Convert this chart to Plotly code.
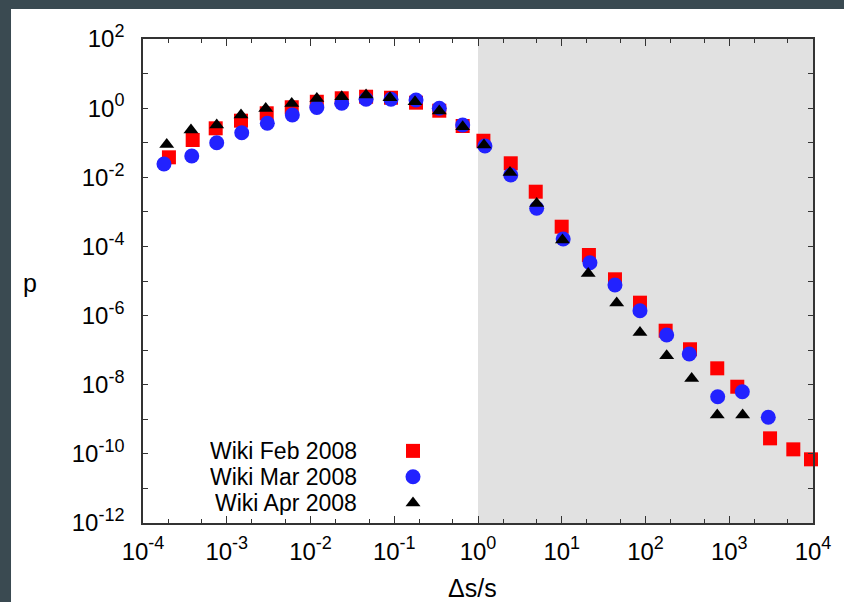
import plotly.graph_objects as go

# ---- data ----
series_names = ["Wiki Feb 2008", "Wiki Mar 2008", "Wiki Apr 2008"]

feb_x = [2.04e-4, 3.92e-4, 7.38e-4, 1.48e-3, 3.0e-3, 5.97e-3, 0.0119, 0.0236, 0.0461, 0.0914,
         0.182, 0.345, 0.656, 1.16, 2.46, 4.89, 9.98, 21.1, 43.2, 85.9, 174, 340, 719, 1247,
         3070, 5820, 9460]
feb_p = [0.0378, 0.120, 0.261, 0.434, 0.710, 1.06, 1.53, 1.93, 2.14, 2.00, 1.44, 0.843, 0.304,
         0.114, 0.0254, 3.83e-3, 3.72e-4, 5.65e-5, 1.12e-5, 2.36e-6, 3.65e-7, 1.06e-7, 2.98e-8,
         8.75e-9, 2.81e-10, 1.35e-10, 6.95e-11]

mar_x = [1.78e-4, 3.82e-4, 7.59e-4, 1.51e-3, 3.05e-3, 6.07e-3, 0.0119, 0.0236, 0.0461, 0.0914,
         0.182, 0.345, 0.656, 1.21, 2.46, 5.02, 10.4, 21.7, 43.2, 85.9, 179, 333, 728, 1432, 2924]
mar_p = [0.0242, 0.0413, 0.100, 0.195, 0.364, 0.634, 1.04, 1.38, 1.80, 1.80, 1.72, 0.989, 0.325,
         0.0804, 0.0116, 1.27e-3, 1.64e-4, 3.38e-5, 7.66e-6, 1.38e-6, 2.74e-7, 7.73e-8, 4.50e-9,
         6.28e-9, 1.14e-9]

apr_x = [1.92e-4, 3.74e-4, 7.59e-4, 1.48e-3, 2.92e-3, 5.97e-3, 0.0119, 0.0236, 0.0461, 0.0889,
         0.177, 0.345, 0.656, 1.18, 2.41, 5.02, 10.2, 20.7, 45.3, 85.9, 179, 356, 719, 1445]
apr_p = [0.0891, 0.233, 0.324, 0.632, 0.982, 1.37, 1.91, 2.14, 2.39, 2.00, 1.53, 0.824, 0.290,
         0.0857, 0.0138, 1.75e-3, 1.53e-4, 1.66e-5, 2.32e-6, 3.25e-7, 6.89e-8, 1.52e-8, 1.33e-9,
         1.33e-9]

x_exponents = [-4, -3, -2, -1, 0, 1, 2, 3, 4]
y_exponents = [2, 0, -2, -4, -6, -8, -10, -12]
y_minor_exponents = [1, -1, -3, -5, -7, -9, -11]
shade_range = [1, 1e4]

FONT = "Liberation Sans, Arial, Helvetica, sans-serif"
colors = ["#ff0000", "#2222ff", "#000000"]
symbols = ["square", "circle", "triangle-up"]
sizes = [14, 15, 13]


def pow_label(e):
    return f"10<sup><span style='font-size:18px'>{e}</span></sup>"


fig = go.Figure()
for name, xs, ps, c, s, sz in zip(series_names, [feb_x, mar_x, apr_x], [feb_p, mar_p, apr_p],
                                  colors, symbols, sizes):
    fig.add_trace(go.Scatter(x=xs, y=ps, mode="markers", name=name, cliponaxis=False,
                             marker=dict(symbol=s, size=sz, color=c, line=dict(width=0)),
                             showlegend=False))

# legend (gnuplot style: text right-aligned, symbol to the right) on a hidden overlay axis
legend_rows = [0.149, 0.0955, 0.0415]
for name, c, s, sz, yy in zip(series_names, colors, symbols, sizes, legend_rows):
    fig.add_trace(go.Scatter(x=[0.403], y=[yy], mode="markers", xaxis="x2", yaxis="y2",
                             marker=dict(symbol=s, size=sz, color=c, line=dict(width=0)),
                             showlegend=False, hoverinfo="skip", cliponaxis=False))
    fig.add_annotation(x=0.321, y=yy, xref="paper", yref="paper", text=name, showarrow=False,
                       xanchor="right", yanchor="middle", height=24, borderpad=0,
                       font=dict(family=FONT, size=23, color="black"))

x_minor = []
for e in x_exponents[:-1]:
    x_minor += [2 * 10 ** e, 5 * 10 ** e]

axis_common = dict(showline=True, linecolor="#333333", linewidth=1.5, mirror="ticks",
                   ticks="inside", tickcolor="#333333", tickwidth=1, showgrid=False, zeroline=False,
                   tickfont=dict(family=FONT, size=24, color="black"))

fig.update_layout(
    width=844, height=602,
    margin=dict(l=143, r=31, t=39, b=79),
    paper_bgcolor="#3a4a51",
    plot_bgcolor="rgba(0,0,0,0)",
    font=dict(family=FONT, color="black"),
    xaxis=dict(type="log", range=[-4, 4], tickmode="array",
               tickvals=[10 ** e for e in x_exponents],
               ticktext=[pow_label(e) for e in x_exponents],
               ticklen=7, ticklabelstandoff=6,
               minor=dict(tickmode="array", tickvals=x_minor, ticklen=4, ticks="inside",
                          tickcolor="#333333", showgrid=False),
               **axis_common),
    yaxis=dict(type="log", range=[-12, 2], tickmode="array",
               tickvals=[10 ** e for e in y_exponents],
               ticktext=[pow_label(e) for e in y_exponents],
               ticklen=5, ticklabelstandoff=12,
               minor=dict(tickmode="array", tickvals=[10 ** e for e in y_minor_exponents],
                          ticklen=5, ticks="inside", tickcolor="#333333", showgrid=False),
               **axis_common),
    xaxis2=dict(overlaying="x", range=[0, 1], visible=False),
    yaxis2=dict(overlaying="y", range=[0, 1], visible=False),
    shapes=[
        dict(type="rect", xref="paper", yref="paper", x0=-0.197, x1=1.1, y0=-0.2, y1=1.062,
             fillcolor="white", line=dict(width=0), layer="below"),
        dict(type="rect", xref="x", yref="paper", x0=shade_range[0], x1=shade_range[1], y0=0, y1=1,
             fillcolor="#e1e1e1", line=dict(width=0), layer="below"),
    ],
)

fig.add_annotation(x=-0.169, y=0.495, xref="paper", yref="paper", text="p", showarrow=False,
                   xanchor="center", yanchor="middle", font=dict(family=FONT, size=25, color="black"))
fig.add_annotation(x=0.4925, y=-0.134, xref="paper", yref="paper", text="Δs/s", showarrow=False,
                   xanchor="center", yanchor="middle", height=24, borderpad=0,
                   font=dict(family=FONT, size=25, color="black"))

fig.write_html("out.html")
